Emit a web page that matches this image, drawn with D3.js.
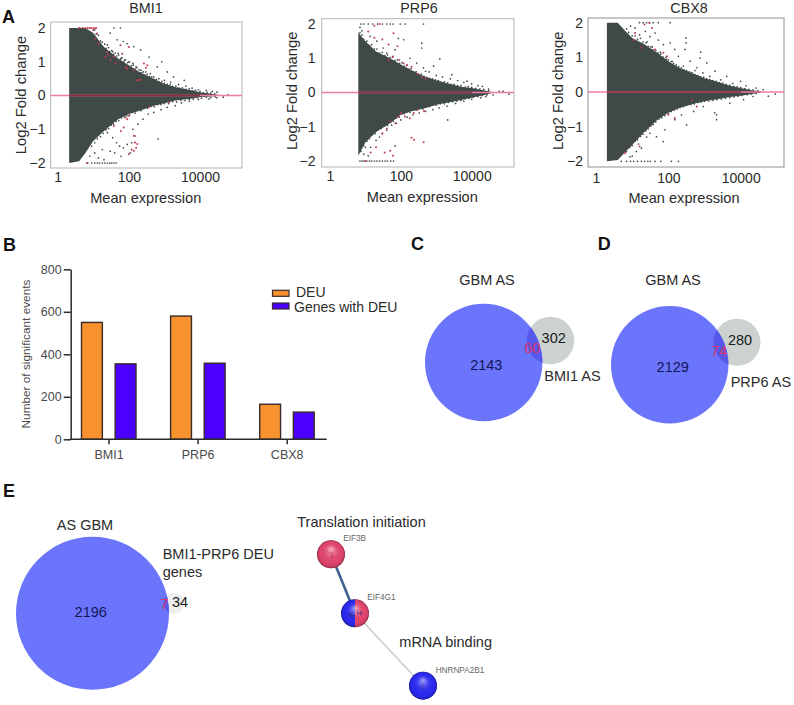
<!DOCTYPE html>
<html><head><meta charset="utf-8">
<script src="https://cdn.jsdelivr.net/npm/d3@7"></script>
<style>html,body{margin:0;padding:0;background:#fff}svg{display:block}text{font-family:"Liberation Sans",Arial,sans-serif}</style>
</head><body><div id="chart"></div>
<script>
// ---------- Panel A: MA plots (dense cloud outline + individually read points) ----------
const maMeansBMI1 = [2.1,4,6,10,20,50,100,200,500,1000,2000,5000,10000,20000,40000];
const maUpperBMI1 = [2,2,2,1.85,1.44,1.1,.9,.7,.5,.35,.25,.17,.1,.05,.01];
const maLowerBMI1 = [-2,-1.95,-1.7,-1.35,-1.05,-.7,-.55,-.45,-.3,-.23,-.15,-.1,-.05,-.03,-.01];
const maMeansPRP6 = [6.3,10,20,50,100,200,500,1000,2000,5000,10000,20000,40000];
const maUpperPRP6 = [1.75,1.5,1.2,1,.82,.65,.45,.36,.27,.17,.13,.07,.01];
const maLowerPRP6 = [-1.85,-1.45,-1.15,-.9,-.65,-.55,-.45,-.36,-.3,-.22,-.15,-.09,-.01];
const maMeansCBX8 = [2,4,6,10,20,50,100,200,500,1000,2000,5000,10000,20000,40000];
const maUpperCBX8 = [2,2,1.8,1.56,1.4,1.13,.89,.7,.53,.4,.31,.18,.115,.05,.01];
const maLowerCBX8 = [-2,-1.96,-1.77,-1.53,-1.19,-.8,-.6,-.46,-.34,-.27,-.22,-.145,-.105,-.06,-.01];

const greyBMI1 = [[38,2],[58,2],[30,1.85],[47,1.65],[70,1.6],[89,1.54],[138,1.45],[214,1.35],[370,1.14],[840,1],[630,.85],[1200,.7],[3600,.45],[1800,.55],[25,1.5],[35,1.3],[50,1.25],[60,1.1],[75,1.05],[100,1],[130,.95],[160,.85],[220,.75],[300,.7],[400,.65],[500,.55],[700,.5],[1000,.45],[1500,.4],[2500,.33],[4000,.28],[6000,.22],[9000,.17],[15000,.15],[22000,.12],[30000,.1],[60000,.02],[94000,0],
  [660,-1.29],[25,-1.1],[35,-1.25],[45,-1.4],[55,-1.5],[70,-1.55],[90,-1.45],[120,-1.4],[150,-1.2],[110,-1.7],[60,-1.8],[40,-1.7],[30,-1.65],[20,-1.9],[18,-1.6],[130,-1],[180,-.85],[250,-.7],[350,-.55],[500,-.5],[800,-.42],[1200,-.35],[2000,-.3],[3000,-.22],[5000,-.17],[9000,-.12],[18000,-.1],[30000,-.07],[45000,-.05],
  [7,-2],[9,-2],[11,-2],[13,-2],[15,-2],[18,-2],[21,-2],[25,-2],[29,-2],[33,-2],[38,-2],[44,-2],[8,-1.8],[11,-1.7],[14,-1.85]];
const edgeBMI1 = [[11,1.95],[12,1.82],[14,1.78],[16,1.62],[18,1.58],[21,1.52],[23,1.4],[27,1.42],[29,1.3],[33,1.33],[37,1.22],[41,1.26],[46,1.17],[52,1.2],[58,1.08],[64,1.12],[72,1],[80,1.06],[92,.97],[105,.99],[118,.88],[133,.9],[150,.79],[170,.82],[195,.76],[225,.68],[255,.7],[290,.6],[330,.63],[380,.56],[440,.55],[520,.47],[600,.48],[720,.4],[850,.42],[1000,.37],[1200,.33],[1450,.33],[1700,.27],[2100,.28],[2600,.22],[3200,.23],[4000,.18],[5000,.2],[6200,.14],[7500,.15],[10000,.12],[12500,.08],[16000,.09],[20000,.07],[26000,.05],
  [9,-1.5],[11,-1.4],[13,-1.28],[16,-1.22],[19,-1.12],[23,-1.02],[27,-.98],[32,-.88],[37,-.85],[44,-.76],[52,-.74],[62,-.66],[75,-.64],[88,-.6],[105,-.58],[125,-.5],[150,-.52],[180,-.44],[220,-.45],[270,-.38],[330,-.38],[420,-.32],[520,-.33],[650,-.27],[800,-.27],[1000,-.24],[1300,-.24],[1700,-.18],[2200,-.19],[2900,-.14],[3800,-.15],[5000,-.12],[6500,-.11],[8500,-.07],[11000,-.08],[15000,-.05],[20000,-.06],[27000,-.04]];
const redBMI1 = [[10,1.94],[12.7,1.84],[11.4,1.69],[14,1.54],[24.5,1.29],[22,1.14],[42,.95],[58,1.49],[100,1.44],[65,1.24],[265,.95],[330,.9],[172,.45],[214,.47],[138,.75],[81,.85],[4,2],[5,2],[6,2],[7,2],[8,2],[9,2],[10.5,2],[12,2],[30,1.05],[26,1.2],[38,1.15],[300,.82],[190,.46],[90,.8],
  [138,-1.19],[172,-1.44],[138,-1.64],[150,-1.39],[100,-1.74],[81,-.65],[100,-.6],[72,-.95],[38,-.9],[370,-.35],[1350,-.2],[6.6,-2],[160,-1.55],[120,-1.6],[90,-.7],[60,-1.05]];

const greyPRP6 = [[96,2],[132,2],[436,2],[60,2],[50,2],[40,2],[30,2],[22,2],[16,2],[12,2],[9,2],[7.5,2],[390,1.44],[390,1.3],[1260,.98],[840,.77],[500,.62],[2750,.52],[7400,.33],[120,1.54],[85,1.58],[69,1.25],[40,1.15],[13.5,1.64],[21,1.5],[32,1.3],[182,1],[280,.86],[436,.72],[630,.6],[1000,.5],[1500,.45],[2500,.4],[4000,.35],[6000,.3],[10000,.25],[15000,.2],[20000,.18],[30000,.1],[60000,.03],[77000,.04],[112000,-.05],
  [2100,-.8],[69,-1.56],[14,-1.6],[20,-1.4],[25,-1.3],[30,-1.2],[40,-1.1],[55,-.95],[75,-.9],[100,-.8],[150,-.72],[220,-.65],[330,-.6],[500,-.55],[800,-.5],[1200,-.45],[2000,-.4],[3500,-.32],[6000,-.25],[10000,-.2],[18000,-.15],[25000,-.12],[40000,-.07],[9,-1.8],[12,-1.85],[10,-1.6],
  [7,-2],[8,-2],[9,-2],[11,-2],[13,-2],[15,-2],[18,-2],[21,-2],[25,-2],[30,-2],[36,-2],[42,-2],[52,-2],[62,-2],[7,1.9],[8,1.8]];
const edgePRP6 = [[7,1.75],[8,1.68],[9,1.55],[11,1.5],[13,1.38],[15,1.4],[18,1.27],[21,1.27],[25,1.15],[30,1.17],[35,1.08],[42,1.1],[50,1.02],[58,1.04],[68,.93],[80,.95],[92,.85],[108,.87],[125,.76],[145,.79],[170,.68],[195,.7],[230,.6],[270,.61],[320,.51],[380,.54],[450,.47],[540,.44],[650,.41],[780,.4],[950,.37],[1150,.35],[1400,.3],[1700,.31],[2100,.28],[2600,.24],[3200,.24],[4000,.2],[5000,.2],[6500,.16],[8000,.17],[10000,.15],[13000,.12],[17000,.11],[22000,.09],[30000,.05],
  [7.5,-1.72],[9,-1.55],[11,-1.42],[13,-1.35],[16,-1.22],[19,-1.2],[23,-1.08],[28,-1.05],[34,-.98],[42,-.96],[52,-.86],[62,-.84],[75,-.74],[90,-.72],[105,-.62],[125,-.62],[150,-.57],[180,-.58],[220,-.5],[270,-.51],[330,-.47],[420,-.48],[520,-.42],[650,-.41],[800,-.37],[1000,-.37],[1300,-.33],[1700,-.33],[2200,-.29],[2900,-.27],[3800,-.25],[5000,-.23],[6500,-.18],[8500,-.17],[11000,-.14],[15000,-.12],[20000,-.09],[27000,-.07]];
const redPRP6 = [[12,1.78],[18,1.6],[30,1.55],[62,1.73],[45,1.4],[80,1.35],[60,1.05],[45,.95],[90,.95],[120,.85],[150,.8],[200,.75],[300,.55],[400,.45],[500,.4],[14,-1.75],[20,-1.6],[30,-1.2],[40,-1.05],[50,-.85],[70,-.9],[85,-.7],[100,-.6],[130,-.7],[180,-.75],[230,-.6],[300,-.5],[450,-.55],[200,-1.32],[235,-1.38],[440,-1.45],[35,-1.75],[50,-1.7],[60,-1.85],[10,-2],[18,1.95],[25,2]];

const greyCBX8 = [[38,2],[53,2],[112,2],[16,2],[20,2],[25,2],[30,2],[307,1.56],[307,1.42],[290,1.23],[780,1.15],[750,.98],[1150,.84],[112,1.42],[73,1.37],[150,1.23],[43,1.7],[31,1.6],[53,1.5],[23,1.75],[190,1.03],[400,.89],[610,.7],[1950,.6],[4100,.45],[9900,.31],[27000,.115],[42000,.07],[58000,-.12],[90000,-.06],[12,1.85],[9,1.9],[16,1.65],[26,1.45],[36,1.3],[60,1.15],[90,.95],[130,.88],[260,.75],[550,.62],[900,.55],[1400,.45],[2800,.35],[6000,.25],[14000,.18],
  [2150,-.66],[2150,-.8],[1900,-.6],[320,-.95],[72,-1.43],[47,-1.29],[31,-1.19],[18,-1.62],[13,-1.72],[8.7,-1.87],[80,-1.09],[150,-.8],[230,-.66],[500,-.56],[930,-.42],[5000,-.32],[12000,-.22],[22000,-.13],
  [5,-2],[7,-2],[9,-2],[11,-2],[14,-2],[18,-2],[22,-2],[27,-2],[32,-2],[43,-2],[62,-2],[122,-2],[190,-2],[10,-1.85],[15,-1.5],[25,-1.3]];
const edgeCBX8 = [[7,1.82],[8,1.72],[10,1.62],[12,1.62],[14,1.52],[17,1.55],[20,1.44],[24,1.42],[28,1.32],[33,1.3],[38,1.22],[45,1.2],[52,1.12],[62,1.1],[72,1.01],[85,1],[100,.92],[120,.88],[140,.82],[165,.78],[195,.73],[230,.7],[270,.64],[320,.62],[380,.58],[450,.56],[540,.5],[650,.47],[780,.44],[950,.43],[1150,.38],[1400,.36],[1700,.33],[2100,.31],[2600,.27],[3200,.26],[4000,.22],[5000,.2],[6500,.16],[8000,.15],[10000,.13],[13000,.1],[17000,.08],[22000,.06],[30000,.04],
  [7,-1.72],[8.5,-1.6],[10,-1.55],[12,-1.42],[14,-1.38],[17,-1.28],[20,-1.22],[24,-1.12],[28,-1.06],[33,-.98],[38,-.94],[45,-.86],[55,-.78],[65,-.74],[80,-.68],[100,-.62],[120,-.56],[145,-.52],[175,-.49],[210,-.45],[260,-.42],[320,-.38],[420,-.36],[520,-.34],[650,-.3],[800,-.29],[1000,-.27],[1300,-.26],[1700,-.24],[2200,-.22],[2900,-.2],[3800,-.18],[5000,-.16],[6500,-.14],[8500,-.12],[11000,-.1],[15000,-.08],[20000,-.06],[27000,-.04]];
const redCBX8 = [[30,2],[35,1.85],[22,1.95],[12,1.7],[11,1.5],[18,1.28],[43,1.23],[73,1.13],[92,1.03],[6.4,-1.77],[16,-1.57],[100,-.66],[150,-.75],[450,-.24],[610,-.42]];

const maTitles = ["BMI1","PRP6","CBX8"];
const yTicksMA = [-2,-1,0,1,2];
const xTicksMA = [1,100,10000];

// ---------- Panel B ----------
const barGenes = ["BMI1","PRP6","CBX8"];
const barSeries = ["DEU","Genes with DEU"];
const deuValues = [550,580,165];
const geneDeuValues = [355,358,128];
const barTicks = [0,200,400,600,800];

// ---------- Panels C, D, E (Venn counts) ----------
const vennLeftOnly = [2143,2129,2196];
const vennShared = [60,74,7];
const vennRightOnly = [302,280,34];

// ---------- Panel E network ----------
const netNodes = ["EIF3B","EIF4G1","HNRNPA2B1"];
const netTranslationShare = [1,.5,0];
const netBindingShare = [0,.5,1];

const W=794,H=705;
const svg=d3.select("#chart").append("svg").attr("width",W).attr("height",H).attr("viewBox",[0,0,W,H]);
const defs=svg.append("defs");
const FONT_DARK="#2b2b2b";
function label(g,x,y,t,o={}){
  return g.append("text").attr("x",x).attr("y",y).text(t)
    .attr("font-size",o.size||14.5).attr("fill",o.fill||FONT_DARK)
    .attr("text-anchor",o.anchor||"start").attr("font-weight",o.weight||null)
    .attr("transform",o.rot?`rotate(${o.rot} ${x} ${y})`:null);
}
// panel letters
[["A",2,22.7],["B",3,250.7],["C",411,250],["D",597.7,250],["E",3,496.7]].forEach(d=>
  label(svg,d[1],d[2],d[0],{size:18,weight:"bold",fill:"#111"}));

// ---------- A ----------
const maPanels=[
 {means:maMeansBMI1,up:maUpperBMI1,lo:maLowerBMI1,grey:greyBMI1.concat(edgeBMI1),red:redBMI1,
  box:[50.7,242,22,168],xr:[57.7,200],yr:[163,28],tickEnd:45.5,xBase:183.3,xlc:145.7,xlBase:203,ylX:26,ylY:95,titleX:146},
 {means:maMeansPRP6,up:maUpperPRP6,lo:maLowerPRP6,grey:greyPRP6.concat(edgePRP6),red:redPRP6,
  box:[321.7,514,18.7,167],xr:[330,471.7],yr:[161,24],tickEnd:315.5,xBase:182,xlc:422.3,xlBase:201.7,ylX:296.7,ylY:90.7,titleX:419},
 {means:maMeansCBX8,up:maUpperCBX8,lo:maLowerCBX8,grey:greyCBX8.concat(edgeCBX8),red:redCBX8,
  box:[588,784,18,167],xr:[596,740.7],yr:[161.3,22.7],tickEnd:583,xBase:184,xlc:684,xlBase:203,ylX:563.3,ylY:90.7,titleX:689}
];
maPanels.forEach((p,i)=>{
  const g=svg.append("g");
  const x=d3.scaleLog().domain([1,10000]).range(p.xr);
  const y=d3.scaleLinear().domain([-2,2]).range(p.yr);
  const [L,R,T,B]=p.box;
  g.append("rect").attr("x",L).attr("y",T).attr("width",R-L).attr("height",B-T)
    .attr("fill","#fff").attr("stroke",i==2?"#8f8f8f":"#b4b4b4").attr("stroke-width",1);
  const cloud=p.means.map((m,k)=>({m,u:p.up[k],l:p.lo[k]}));
  g.append("path").datum(cloud).attr("fill","#3f4a48")
    .attr("d",d3.area().x(d=>x(d.m)).y0(d=>y(d.l)).y1(d=>y(d.u)));
  g.append("g").selectAll("circle").data(p.grey).join("circle")
    .attr("cx",d=>x(d[0])).attr("cy",d=>y(d[1])).attr("r",.85).attr("fill","#3f4a48");
  g.append("g").selectAll("circle").data(p.red).join("circle")
    .attr("cx",d=>x(d[0])).attr("cy",d=>y(d[1])).attr("r",1).attr("fill","#c23a4c");
  g.append("line").attr("x1",L).attr("x2",R).attr("y1",y(0)).attr("y2",y(0))
    .attr("stroke","#ee7aa6").attr("stroke-width",1.3);
  g.append("line").attr("x1",x(p.means[0])).attr("x2",x(10000)).attr("y1",y(0)).attr("y2",y(0))
    .attr("stroke","#8e3040").attr("stroke-width",1.3);
  const ax=g.append("g").attr("transform",`translate(0,${B})`)
    .call(d3.axisBottom(x).tickValues(xTicksMA).tickFormat(d3.format("d")).tickSize(0).tickPadding(p.xBase-B-11));
  ax.select(".domain").remove();
  ax.selectAll("text").attr("font-size",14).attr("fill",FONT_DARK).attr("font-family",null);
  const ay=g.append("g").attr("transform",`translate(${p.tickEnd+2},0)`)
    .call(d3.axisLeft(y).tickValues(yTicksMA).tickFormat(d3.format("d")).tickSize(0).tickPadding(2));
  ay.select(".domain").remove();
  ay.selectAll("text").attr("font-size",14).attr("fill",FONT_DARK).attr("font-family",null);
  label(g,p.titleX,12.7,maTitles[i],{size:14.3,anchor:"middle"});
  label(g,p.xlc,p.xlBase,"Mean expression",{size:14.6,anchor:"middle"});
  label(g,p.ylX,p.ylY,"Log2 Fold change",{size:14.8,anchor:"middle",rot:-90});
});

// ---------- B ----------
(function(){
  const g=svg.append("g");
  const y=d3.scaleLinear().domain([0,800]).range([439.3,269.3]);
  const x0=d3.scalePoint().domain(barGenes).range([108.5,286.7]);
  const x1=d3.scaleBand().domain(barSeries).range([-27,27.5]).paddingInner(.38);
  const colors=d3.scaleOrdinal().domain(barSeries).range(["#f7922f","#4b00ff"]);
  const rows=barGenes.map((n,i)=>({n,v:[deuValues[i],geneDeuValues[i]]}));
  g.selectAll("g.b").data(rows).join("g").attr("class","b")
    .attr("transform",d=>`translate(${x0(d.n)},0)`)
    .selectAll("rect").data(d=>d.v.map((v,k)=>({v,s:barSeries[k]}))).join("rect")
    .attr("x",d=>x1(d.s)).attr("width",x1.bandwidth())
    .attr("y",d=>y(d.v)).attr("height",d=>y(0)-y(d.v))
    .attr("fill",d=>colors(d.s)).attr("stroke","#3a2a2a").attr("stroke-width",1.4);
  const ay=g.append("g").attr("transform","translate(70.7,0)")
    .call(d3.axisLeft(y).tickValues(barTicks).tickSize(7).tickPadding(2).tickSizeOuter(0));
  ay.selectAll("path,line").attr("stroke","#2b2b2b").attr("stroke-width",1.5);
  ay.selectAll("text").attr("font-size",12.5).attr("fill","#4a4a4a").attr("font-family",null);
  const ax=g.append("g").attr("transform","translate(0,439.3)")
    .call(d3.axisBottom(x0).tickSize(5).tickPadding(6).tickSizeOuter(0));
  ax.select(".domain").attr("d","M70,0H326.7").attr("stroke","#2b2b2b").attr("stroke-width",1.5);
  ax.selectAll("line").attr("stroke","#2b2b2b").attr("stroke-width",1.5);
  ax.selectAll("text").attr("font-size",12.5).attr("fill","#4a4a4a").attr("font-family",null);
  label(g,30,354,"Number of significant events",{size:11.8,anchor:"middle",rot:-90,fill:"#4a4a4a"});
  barSeries.forEach((s,k)=>{
    g.append("rect").attr("x",272.5).attr("width",16.5).attr("y",k?303:290.3).attr("height",6)
      .attr("fill",colors(s)).attr("stroke","#3a2a2a").attr("stroke-width",1.2);
    label(g,k?294:296,k?311.7:296.7,s,{size:14});
  });
})();

// ---------- C, D, E venns ----------
const venns=[
 {big:[483.7,362.5],small:[550.5,340.5],bigR:58.7,
  txt:[[487,285,"GBM AS","middle"],[544.3,381,"BMI1 AS","start"]],nums:[[486.3,370],[532.3,353.3],[553.7,342.7]],smallFill:"#ccd2cf",ov:"#5558ea"},
 {big:[669.7,364.7],small:[737,342.3],bigR:58.7,
  txt:[[673,285,"GBM AS","middle"],[730.7,387,"PRP6 AS","start"]],nums:[[672.7,372.3],[719,356],[740,345]],smallFill:"#ccd2cf",ov:"#5558ea"},
 {big:[92.5,613.3],small:[174,603.3],bigR:76.5,
  txt:[[85,530,"AS GBM","middle"],[162.7,559.3,"BMI1-PRP6 DEU","start"],[162.7,576.7,"genes","start"]],nums:[[90.7,617.3],[164.3,609],[180,607.3]],smallFill:"#eeeeee",ov:"#5558ea"}
];
venns.forEach((v,i)=>{
  const g=svg.append("g");
  const total=vennLeftOnly[i]+vennShared[i];
  const r=d3.scaleSqrt().domain([0,total]).range([0,v.bigR]);
  const rSmall=r(vennRightOnly[i]+vennShared[i]);
  g.append("circle").attr("cx",v.small[0]).attr("cy",v.small[1]).attr("r",rSmall).attr("fill",v.smallFill);
  g.append("circle").attr("cx",v.big[0]).attr("cy",v.big[1]).attr("r",v.bigR).attr("fill","#6b75fb");
  const id="vclip"+i;
  defs.append("clipPath").attr("id",id).append("circle").attr("cx",v.big[0]).attr("cy",v.big[1]).attr("r",v.bigR);
  g.append("circle").attr("cx",v.small[0]).attr("cy",v.small[1]).attr("r",rSmall).attr("fill",v.ov).attr("clip-path",`url(#${id})`);
  v.txt.forEach(t=>label(g,t[0],t[1],t[2],{anchor:t[3],size:14.5}));
  label(g,v.nums[0][0],v.nums[0][1],vennLeftOnly[i],{anchor:"middle",size:14.5,fill:"#15155c"});
  label(g,v.nums[1][0],v.nums[1][1],vennShared[i],{anchor:"middle",size:14.5,fill:"#d8366c"});
  label(g,v.nums[2][0],v.nums[2][1],vennRightOnly[i],{anchor:"middle",size:14.5,fill:"#1a1a1a"});
});

// ---------- E network ----------
(function(){
  const g=svg.append("g");
  const pos=[[331,554.3],[355,613.3],[423,685.7]];
  const lab=[[343.3,541],[367.3,600],[435.7,672.7]];
  g.append("line").attr("x1",pos[0][0]).attr("y1",pos[0][1]).attr("x2",pos[1][0]).attr("y2",pos[1][1])
    .attr("stroke","#41618f").attr("stroke-width",2.6);
  g.append("line").attr("x1",pos[1][0]).attr("y1",pos[1][1]).attr("x2",pos[2][0]).attr("y2",pos[2][1])
    .attr("stroke","#c3ccd6").attr("stroke-width",1.5);
  const gr=defs.append("radialGradient").attr("id","ball").attr("cx","50%").attr("cy","50%").attr("r","50%").attr("fx","50%").attr("fy","30%");
  [[0,"#fff",.55],[.38,"#fff",.12],[.75,"#000",0],[.94,"#000",.15],[1,"#000",.5]].forEach(s=>
    gr.append("stop").attr("offset",s[0]).attr("stop-color",s[1]).attr("stop-opacity",s[2]));
  const pie=d3.pie().sort(null);
  const arc=d3.arc().innerRadius(0).outerRadius(14);
  const cols=["#e4466f","#2c2af2"];
  const squiggles=["M-5,-4L-1,-1L2,-2L0,2L3,3","M-7,1L-2,-1L-5,3L0,2L-3,5M2,-3L3,1L6,-2L6,2","M-2,-2L1,-1L-1,2L1,5"];
  netNodes.forEach((n,i)=>{
    const c=g.append("g").attr("transform",`translate(${pos[i]})`);
    const shares=[netTranslationShare[i],netBindingShare[i]];
    c.selectAll("path.s").data(pie(shares)).join("path").attr("class","s").attr("d",arc).attr("fill",(d,k)=>cols[k]);
    c.append("path").attr("d",squiggles[i]).attr("fill","none").attr("stroke",i==0?"#a01040":"#15157a").attr("stroke-width",1).attr("opacity",.75);
    c.append("circle").attr("r",14).attr("fill","url(#ball)");
    label(g,lab[i][0],lab[i][1],n,{size:8.2,fill:"#666"});
  });
  label(g,297.3,527.3,"Translation initiation",{size:14.5});
  label(g,399.3,647.3,"mRNA binding",{size:14.5});
})();
</script></body></html>
